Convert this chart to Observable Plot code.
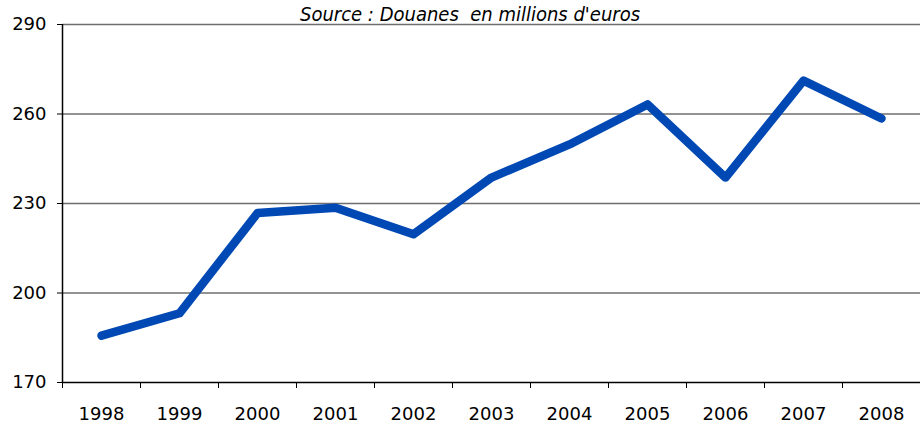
<!DOCTYPE html>
<html><head><meta charset="utf-8">
<script src="https://cdn.jsdelivr.net/npm/d3@7"></script>
<script src="https://cdn.jsdelivr.net/npm/@observablehq/plot@0.6"></script>
<style>
html,body{margin:0;padding:0;background:#fff;}
#chart{position:relative;width:920px;height:423px;}
</style>
</head><body><div id="chart"></div>
<script>
const years = [1998,1999,2000,2001,2002,2003,2004,2005,2006,2007,2008];
const values = [185.7,193.2,226.8,228.6,219.7,238.7,249.8,263.2,238.7,271.2,258.5];
const yTicks = [170,200,230,260,290];
const gridLines = [200,230,260,290];
const title = "Source : Douanes  en millions d'euros";

const data = years.map((y,i)=>({year:y, value:values[i]}));
const boundaries = years.map(y=>y-0.5).concat([years[years.length-1]+0.5]);
const font = "DejaVu Sans, Verdana, sans-serif";

const chart = Plot.plot({
  width: 920, height: 423,
  marginLeft: 62, marginRight: 0, marginTop: 24, marginBottom: 41,
  style: {fontFamily: font, fontSize: "18px", color: "#000", background: "#fff"},
  x: {domain: [boundaries[0], boundaries[boundaries.length-1]], label: null},
  y: {domain: [170, 290], label: null},
  marks: [
    Plot.ruleY(gridLines, {stroke: "#6e6e6e", strokeWidth: 1.3, strokeOpacity: 1}),
    Plot.ruleY([170], {stroke: "#000", strokeWidth: 1.5}),
    Plot.ruleX([boundaries[0]], {y1: 170, y2: 290, stroke: "#000", strokeWidth: 1.5}),
    Plot.axisY({ticks: yTicks, tickSize: 5, tickPadding: 11, tickFormat: d => String(d), label: null, stroke: "#000"}),
    Plot.axisX({ticks: boundaries, tickSize: 6, tickFormat: () => "", label: null, stroke: "#000"}),
    Plot.axisX({ticks: years, tickSize: 0, tickPadding: 25, tickFormat: d => String(d), label: null}),
    Plot.line(data, {x: "year", y: "value", stroke: "#0048b4", strokeWidth: 8.5, strokeLinecap: "round", strokeLinejoin: "round"}),
    Plot.text([title], {frameAnchor: "top", lineAnchor: "middle", dx: -21.5, dy: -9.5, text: d => d, fontStyle: "italic", fontSize: 20, fill: "#000", fontFamily: "DejaVu Sans Condensed, DejaVu Sans, sans-serif"})
  ]
});
document.getElementById("chart").appendChild(chart);
</script></body></html>
